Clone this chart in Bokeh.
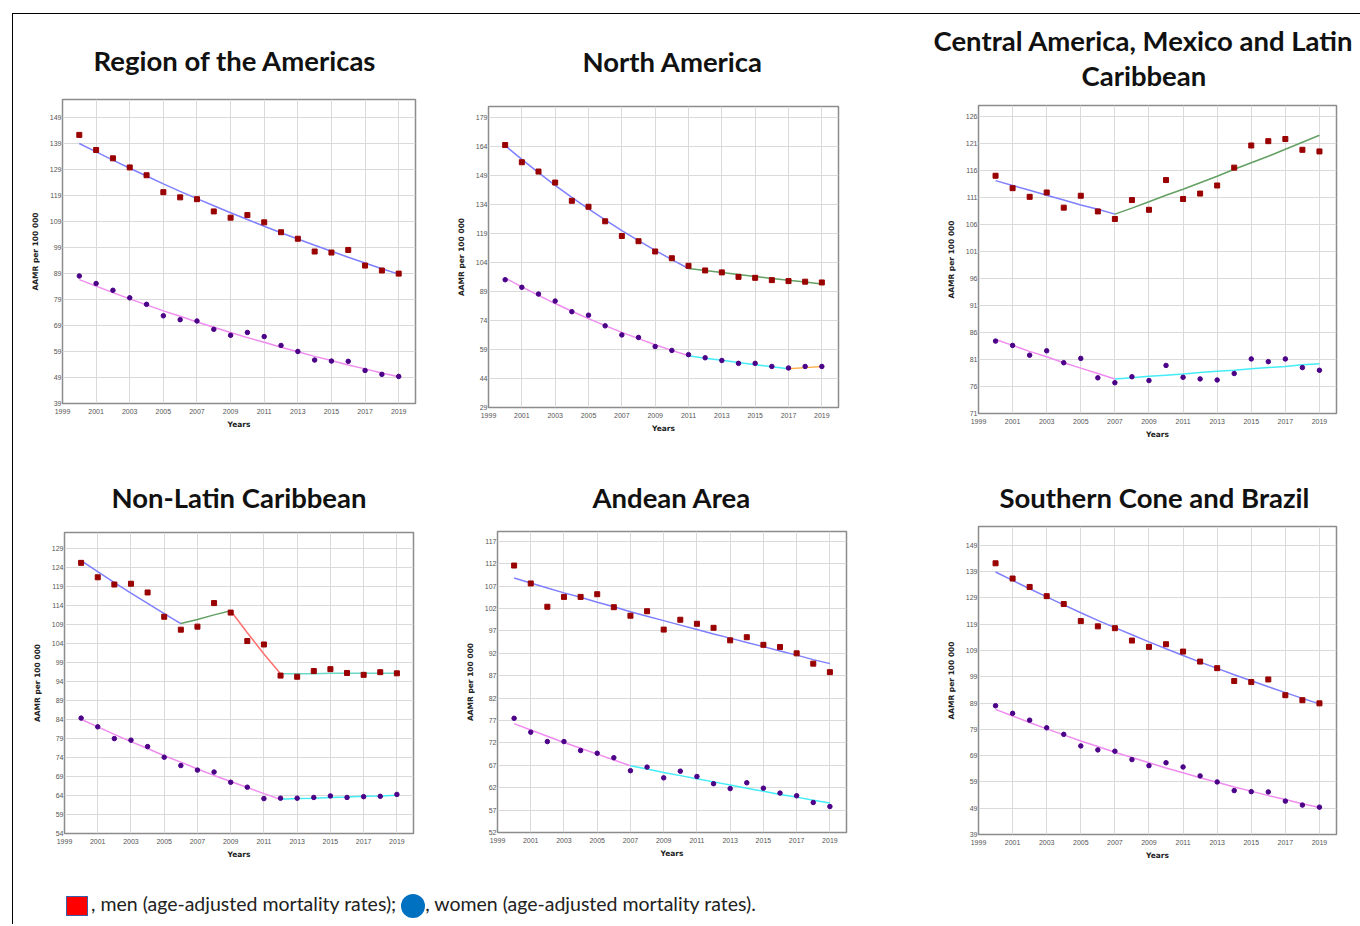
from bokeh.plotting import figure
from bokeh.layouts import row, column
from bokeh.models import FixedTicker, Title, Div, Spacer, Range1d
from bokeh.embed import file_html
from bokeh.resources import INLINE

years = list(range(2000, 2020))
x_ticks = list(range(1999, 2020, 2))

# ---------------- Region of the Americas ----------------
americas_men = [142.2, 136.4, 133.2, 129.7, 126.7, 120.2, 118.2, 117.5, 112.8, 110.4,
                111.4, 108.6, 104.8, 102.3, 97.4, 97.0, 98.0, 92.0, 90.1, 88.9]
americas_men_fit = [138.9, 135.7, 132.5, 129.4, 126.4, 123.4, 120.5, 117.7, 115.0, 112.3,
                    109.7, 107.1, 104.6, 102.2, 99.8, 97.5, 95.2, 93.0, 90.8, 88.7]
americas_men_joins = [2000, 2019]
americas_women = [88.0, 85.1, 82.5, 79.6, 77.1, 72.7, 71.2, 70.7, 67.5, 65.2,
                  66.3, 64.7, 61.3, 59.0, 55.7, 55.3, 55.2, 51.7, 50.2, 49.4]
americas_women_fit = [86.6, 84.1, 81.6, 79.2, 76.9, 74.6, 72.5, 70.3, 68.3, 66.3,
                      64.3, 62.5, 60.6, 58.9, 57.1, 55.5, 53.8, 52.3, 50.7, 49.3]
americas_women_joins = [2000, 2019]
americas_yticks = list(range(39, 150, 10))

# ---------------- North America ----------------
north_men = [164.6, 155.7, 150.9, 145.2, 135.8, 132.7, 125.2, 117.6, 114.9, 109.6,
             106.1, 102.2, 99.8, 98.8, 96.5, 96.0, 94.8, 94.3, 94.0, 93.6]
north_men_fit = [164.3, 157.2, 150.3, 143.8, 137.5, 131.6, 125.9, 120.4, 115.2, 110.2,
                 105.4, 100.8, 99.8, 98.7, 97.7, 96.7, 95.7, 94.7, 93.8, 92.8]
north_men_joins = [2000, 2011, 2019]
north_women = [95.0, 91.1, 87.6, 84.0, 78.5, 76.7, 71.2, 66.5, 65.2, 60.5,
               58.5, 56.3, 54.7, 53.3, 51.8, 51.8, 50.2, 49.4, 50.2, 50.2]
north_women_fit = [95.9, 91.3, 86.9, 82.7, 78.7, 74.9, 71.3, 67.8, 64.6, 61.4,
                   58.5, 55.7, 54.5, 53.4, 52.2, 51.1, 50.1, 49.0, 49.6, 50.2]
north_women_joins = [2000, 2011, 2017, 2019]
north_yticks = list(range(29, 180, 15))

# ---------------- Central America, Mexico and Latin Caribbean ----------------
central_men = [115.0, 112.7, 111.1, 111.9, 109.1, 111.3, 108.4, 107.0, 110.5, 108.7,
               114.2, 110.7, 111.7, 113.2, 116.5, 120.6, 121.4, 121.8, 119.8, 119.5]
central_men_fit = [114.1, 113.2, 112.3, 111.4, 110.5, 109.6, 108.8, 107.9, 109.0, 110.2,
                   111.4, 112.5, 113.7, 114.9, 116.2, 117.4, 118.6, 119.9, 121.2, 122.5]
central_men_joins = [2000, 2007, 2019]
central_women = [84.4, 83.6, 81.8, 82.6, 80.4, 81.2, 77.6, 76.7, 77.8, 77.1,
                 79.9, 77.7, 77.4, 77.2, 78.4, 81.1, 80.6, 81.1, 79.5, 79.0]
central_women_fit = [84.7, 83.6, 82.5, 81.5, 80.4, 79.4, 78.4, 77.4, 77.6, 77.9,
                     78.1, 78.3, 78.6, 78.8, 79.0, 79.3, 79.5, 79.7, 80.0, 80.2]
central_women_joins = [2000, 2007, 2019]
central_yticks = list(range(71, 127, 5))

# ---------------- Non-Latin Caribbean ----------------
nonlatin_men = [125.3, 121.5, 119.6, 119.8, 117.5, 111.1, 107.7, 108.5, 114.7, 112.2,
                104.7, 103.8, 95.6, 95.3, 96.8, 97.3, 96.3, 95.8, 96.5, 96.2]
nonlatin_men_fit = [125.9, 123.0, 120.1, 117.3, 114.6, 111.9, 109.3, 110.4, 111.6, 112.7,
                    106.9, 101.3, 96.1, 96.1, 96.1, 96.2, 96.2, 96.2, 96.2, 96.2]
nonlatin_men_joins = [2000, 2006, 2009, 2012, 2019]
nonlatin_women = [84.4, 82.1, 79.0, 78.6, 76.9, 74.1, 71.9, 70.7, 70.2, 67.5,
                  66.2, 63.2, 63.3, 63.3, 63.5, 63.9, 63.5, 63.7, 63.8, 64.3]
nonlatin_women_fit = [84.1, 82.1, 80.1, 78.2, 76.4, 74.5, 72.8, 71.0, 69.3, 67.7,
                      66.1, 64.5, 63.0, 63.2, 63.3, 63.5, 63.6, 63.8, 63.9, 64.1]
nonlatin_women_joins = [2000, 2012, 2019]
nonlatin_yticks = list(range(54, 130, 5))

# ---------------- Andean Area ----------------
andean_men = [111.6, 107.6, 102.4, 104.6, 104.6, 105.2, 102.3, 100.4, 101.4, 97.3,
              99.5, 98.6, 97.7, 94.9, 95.6, 93.9, 93.4, 92.0, 89.7, 87.8]
andean_men_fit = [108.8, 107.7, 106.6, 105.5, 104.5, 103.4, 102.4, 101.3, 100.3, 99.3,
                  98.3, 97.3, 96.3, 95.4, 94.4, 93.5, 92.5, 91.6, 90.6, 89.7]
andean_men_joins = [2000, 2019]
andean_women = [77.5, 74.4, 72.3, 72.3, 70.3, 69.7, 68.7, 65.8, 66.6, 64.2,
                65.7, 64.5, 62.9, 61.8, 63.1, 61.9, 60.8, 60.2, 58.7, 57.8]
andean_women_fit = [76.3, 74.9, 73.5, 72.1, 70.8, 69.5, 68.2, 66.9, 66.2, 65.4,
                    64.7, 64.0, 63.3, 62.6, 61.9, 61.2, 60.5, 59.9, 59.2, 58.6]
andean_women_joins = [2000, 2007, 2019]
andean_yticks = list(range(52, 118, 5))

# ---------------- Southern Cone and Brazil ----------------
southern_men = [142.2, 136.4, 133.2, 129.7, 126.7, 120.2, 118.2, 117.5, 112.8, 110.4,
                111.4, 108.6, 104.8, 102.3, 97.4, 97.0, 98.0, 92.0, 90.1, 88.9]
southern_men_fit = [138.9, 135.7, 132.5, 129.4, 126.4, 123.4, 120.5, 117.7, 115.0, 112.3,
                    109.7, 107.1, 104.6, 102.2, 99.8, 97.5, 95.2, 93.0, 90.8, 88.7]
southern_men_joins = [2000, 2019]
southern_women = [88.0, 85.1, 82.5, 79.6, 77.1, 72.7, 71.2, 70.7, 67.5, 65.2,
                  66.3, 64.7, 61.3, 59.0, 55.7, 55.3, 55.2, 51.7, 50.2, 49.4]
southern_women_fit = [86.6, 84.1, 81.6, 79.2, 76.9, 74.6, 72.5, 70.3, 68.3, 66.3,
                      64.3, 62.5, 60.6, 58.9, 57.1, 55.5, 53.8, 52.3, 50.7, 49.3]
southern_women_joins = [2000, 2019]
southern_yticks = list(range(39, 150, 10))

MEN_SEG_COLORS = ["#7f7fff", "#63a063", "#ff7070", "#6cd8c8"]
WOMEN_SEG_COLORS = ["#f08cf0", "#45ecf6", "#ffae4a"]
MEN_MARKER = "#990000"
WOMEN_MARKER = "#4b0088"

TITLE_FONT = "Lato"
AXIS_FONT = "Liberation Sans"


def make_panel(titles, men, men_fit, men_joins, women, women_fit, women_joins,
               yticks, ytop, width, height, bl, br, bt, bb, standoffs, offsets):
    p = figure(width=width, height=height, title=None,
               x_range=Range1d(1999, 2020), y_range=Range1d(yticks[0], ytop),
               output_backend="svg", toolbar_location=None, frame_align=False,
               min_border_left=bl, min_border_right=br,
               min_border_top=bt, min_border_bottom=bb,
               background_fill_color="white", border_fill_color="white")
    # titles: innermost line first
    for text, so, off in reversed(list(zip(titles, standoffs, offsets))):
        p.add_layout(Title(text=text, align="left", text_font=TITLE_FONT,
                           text_font_size="27.5px", text_font_style="bold",
                           text_color="#111111", standoff=so, offset=off),
                     "above")
    p.xaxis.ticker = FixedTicker(ticks=x_ticks)
    p.yaxis.ticker = FixedTicker(ticks=yticks)
    p.axis.major_tick_line_color = None
    p.axis.minor_tick_line_color = None
    p.axis.major_tick_out = 0
    p.axis.major_tick_in = 0
    p.axis.minor_tick_out = 0
    p.axis.minor_tick_in = 0
    p.axis.axis_line_color = None
    p.axis.major_label_text_font = AXIS_FONT
    p.axis.major_label_text_font_size = "7px"
    p.axis.major_label_text_color = "#555555"
    p.xaxis.major_label_standoff = 5
    p.yaxis.major_label_standoff = 1
    p.xaxis.axis_label = "Years"
    p.yaxis.axis_label = "AAMR per 100 000"
    p.axis.axis_label_text_font = "DejaVu Sans"
    p.axis.axis_label_text_font_style = "bold"
    p.axis.axis_label_text_font_size = "7.5px"
    p.axis.axis_label_text_color = "#222222"
    p.xaxis.axis_label_standoff = 3
    p.yaxis.axis_label_standoff = 7
    p.outline_line_color = "#8c8c8c"
    p.outline_line_width = 1.5
    p.grid.grid_line_color = "#dadada"
    p.grid.grid_line_width = 1

    for joins, fit, colors in ((men_joins, men_fit, MEN_SEG_COLORS),
                               (women_joins, women_fit, WOMEN_SEG_COLORS)):
        for k in range(len(joins) - 1):
            i0 = years.index(joins[k])
            i1 = years.index(joins[k + 1])
            p.line(years[i0:i1 + 1], fit[i0:i1 + 1], line_color=colors[k], line_width=1.5)

    p.scatter(years, men, marker="square", size=5, color=MEN_MARKER)
    p.scatter(years, women, marker="circle", size=4.5, color=WOMEN_MARKER)
    return p


# row 1: y 14..454 (height 440); row 2: y 454..879 (height 425)
p1 = make_panel(["Region of the Americas"], americas_men, americas_men_fit, americas_men_joins,
                americas_women, americas_women_fit, americas_women_joins,
                americas_yticks, 155.8, 432, 440, 49, 30, 85, 51, [45], [31])
p2 = make_panel(["North America"], north_men, north_men_fit, north_men_joins,
                north_women, north_women_fit, north_women_joins,
                north_yticks, 184.5, 460, 440, 43, 67, 91, 47, [57], [94])
p3 = make_panel(["Central America, Mexico and Latin", "Caribbean"], central_men, central_men_fit,
                central_men_joins, central_women, central_women_fit, central_women_joins,
                central_yticks, 128.0, 455, 440, 73, 24, 91, 41, [-26, 27], [-45, 103])
p4 = make_panel(["Non-Latin Caribbean"], nonlatin_men, nonlatin_men_fit, nonlatin_men_joins,
                nonlatin_women, nonlatin_women_fit, nonlatin_women_joins,
                nonlatin_yticks, 133.3, 432, 425, 51, 32, 78, 46, [37], [47])
p5 = make_panel(["Andean Area"], andean_men, andean_men_fit, andean_men_joins,
                andean_women, andean_women_fit, andean_women_joins,
                andean_yticks, 119.2, 460, 425, 52, 59, 77, 47, [35], [95])
p6 = make_panel(["Southern Cone and Brazil"], southern_men, southern_men_fit, southern_men_joins,
                southern_women, southern_women_fit, southern_women_joins,
                southern_yticks, 156.2, 455, 425, 73, 24, 72, 45, [25], [21])

legend_html = (
    '<div style="padding-top:13px;padding-left:53px;font-family:Lato;font-size:19.5px;'
    'color:#222;white-space:nowrap;line-height:24px;">'
    '<span style="display:inline-block;width:22px;height:20px;background:#ff0000;'
    'border:1px solid #3b5ea8;vertical-align:middle;margin-right:3px;"></span>'
    ', men (age-adjusted mortality rates); '
    '<span style="display:inline-block;width:24px;height:24px;border-radius:50%;'
    'background:#0070c0;vertical-align:middle;"></span>'
    ', women (age-adjusted mortality rates).</div>'
)
legend = Div(text=legend_html, width=1347, height=37, margin=0)

content = column(row(p1, p2, p3), row(p4, p5, p6), legend)
top_line = Div(text="", width=1348, height=1, margin=0, styles={"background-color": "#000000"})
left_line = Div(text="", width=1, height=910, margin=0, styles={"background-color": "#000000"})

root = column(
    Spacer(height=13, width=10),
    row(Spacer(width=12, height=1), top_line),
    row(Spacer(width=12, height=10), left_line, content),
)

open("out.html", "w").write(file_html(root, INLINE))
